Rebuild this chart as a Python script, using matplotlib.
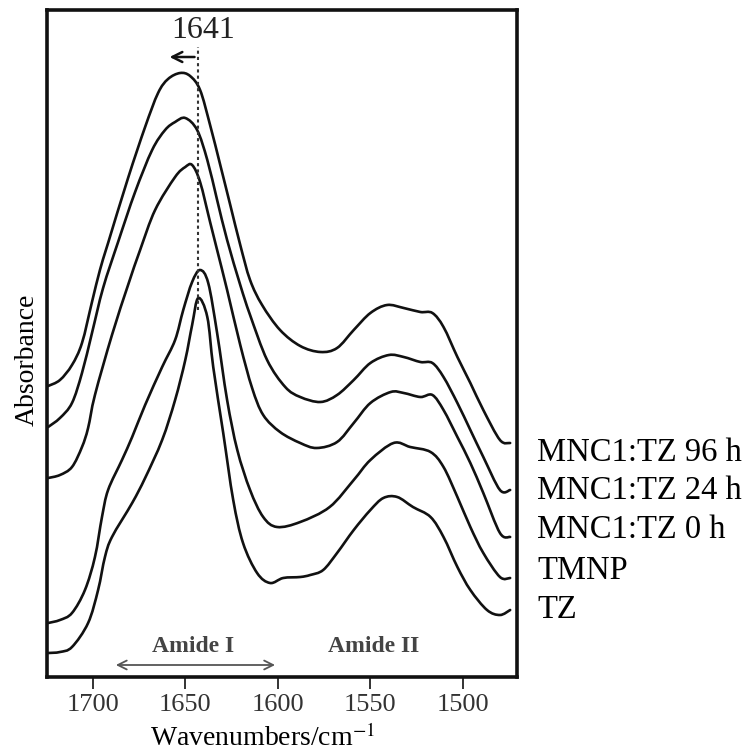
import matplotlib
matplotlib.use('Agg')
import matplotlib.pyplot as plt
from matplotlib.path import Path
from matplotlib.patches import PathPatch
import numpy as np

plt.rcParams['font.family'] = ['Liberation Serif', 'DejaVu Serif']
plt.rcParams['mathtext.fontset'] = 'stix'

# wavenumber (cm-1) / absorbance (a.u., offset stacked)
wn_96h = [1724.1, 1717.7, 1711.2, 1705.8, 1700.4, 1696.1, 1691.7, 1680.9, 1671.7, 1664.7,
          1659.3, 1652.8, 1647.4, 1642, 1636.6, 1631.1, 1625.7, 1620.3, 1615, 1608.5,
          1598.8, 1587.9, 1577, 1568, 1559, 1550, 1541, 1532, 1523, 1516.5, 1510.5, 1503,
          1496, 1489, 1480, 1474.5]
ab_96h = [2.92, 2.98, 3.13, 3.35, 3.76, 4.08, 4.35, 5.00, 5.51, 5.85,
          5.99, 6.05, 6.02, 5.88, 5.53, 5.13, 4.73, 4.33, 3.98, 3.73,
          3.48, 3.32, 3.26, 3.30, 3.48, 3.65, 3.73, 3.70, 3.66, 3.65, 3.51, 3.21,
          2.95, 2.68, 2.38, 2.35]

wn_24h = [1724.1, 1717.7, 1711.2, 1705.8, 1700.4, 1694.4, 1686.3, 1677.1, 1667.9, 1660.9,
          1655.5, 1650, 1643.6, 1638.1, 1632.8, 1627.4, 1620.3, 1615, 1605.8, 1596,
          1587.9, 1577, 1568, 1559, 1550, 1540, 1532, 1523, 1516.5, 1510.5, 1503,
          1496, 1489, 1480, 1474.5]
ab_24h = [2.51, 2.60, 2.75, 3.05, 3.45, 3.90, 4.36, 4.86, 5.28, 5.48,
          5.56, 5.60, 5.48, 5.18, 4.78, 4.38, 3.93, 3.63, 3.18, 2.91,
          2.81, 2.76, 2.83, 2.98, 3.15, 3.23, 3.21, 3.16, 3.15, 3.01, 2.75,
          2.48, 2.21, 1.88, 1.88]

wn_0h = [1724.1, 1717.7, 1711.2, 1705.8, 1702.5, 1698.8, 1689.6, 1680.9, 1674.4, 1666.3,
         1655.5, 1650, 1646.3, 1642, 1636.6, 1632.8, 1627.4, 1620.3, 1613.9, 1607.9,
         1598.8, 1587.9, 1579, 1568, 1559, 1550, 1539, 1532, 1523, 1516.5, 1510.5, 1503,
         1496, 1489, 1480, 1474.5]
ab_0h = [2.00, 2.03, 2.11, 2.31, 2.50, 2.83, 3.43, 3.93, 4.28, 4.68,
         5.01, 5.11, 5.13, 4.96, 4.56, 4.28, 3.88, 3.33, 2.90, 2.63,
         2.46, 2.35, 2.30, 2.36, 2.55, 2.75, 2.86, 2.85, 2.81, 2.83, 2.68, 2.41,
         2.15, 1.85, 1.45, 1.41]

wn_tmnp = [1724.1, 1717.7, 1711.2, 1704.2, 1698.8, 1695, 1691.7, 1684.2, 1678.7, 1671.7,
           1662.5, 1655.5, 1651.1, 1646.3, 1642, 1637.6, 1632.8, 1627.4, 1621.9, 1615,
           1607.9, 1600.4, 1587.9, 1572, 1559, 1550, 1537.5, 1528.5, 1517.5, 1510.5, 1503,
           1496, 1489, 1480, 1474.5]
ab_tmnp = [0.55, 0.58, 0.65, 0.88, 1.21, 1.61, 1.88, 2.18, 2.41, 2.73,
           3.11, 3.38, 3.68, 3.96, 4.08, 3.95, 3.45, 2.78, 2.28, 1.88,
           1.61, 1.51, 1.56, 1.71, 1.98, 2.18, 2.35, 2.31, 2.26, 2.11, 1.81,
           1.51, 1.25, 1.01, 1.00]

wn_tz = [1724.1, 1717.7, 1711.2, 1702.5, 1697.1, 1693.4, 1689.6, 1678.7, 1671.7, 1662.5,
         1655.5, 1650, 1646.3, 1643, 1638.1, 1634.9, 1629.5, 1624.1, 1618.8, 1611.2, 1604.2,
         1597.1, 1587.9, 1582.5, 1575.5, 1568, 1559, 1550, 1543, 1535.5, 1527, 1517.5,
         1510.5, 1503, 1496, 1487, 1480, 1474.5]
ab_tz = [0.25, 0.26, 0.31, 0.55, 0.88, 1.21, 1.41, 1.75, 2.00, 2.38,
         2.78, 3.18, 3.53, 3.80, 3.61, 3.11, 2.45, 1.78, 1.35, 1.05, 0.95,
         1.00, 1.01, 1.03, 1.08, 1.25, 1.48, 1.68, 1.80, 1.81, 1.71, 1.61,
         1.41, 1.11, 0.88, 0.68, 0.63, 0.68]

labels = ['MNC1:TZ 96 h', 'MNC1:TZ 24 h', 'MNC1:TZ 0 h', 'TMNP', 'TZ']
label_y = [453, 491, 530, 571, 610]  # pixel rows of the side labels


def smooth_path(x, y):
    # Catmull-Rom through the points, drawn as cubic Bezier segments
    p = np.column_stack([x, y]).astype(float)
    ext = np.vstack([p[0], p, p[-1]])
    verts = [p[0]]
    codes = [Path.MOVETO]
    for i in range(1, len(ext) - 2):
        p0, p1, p2, p3 = ext[i - 1], ext[i], ext[i + 1], ext[i + 2]
        verts += [p1 + (p2 - p0) / 6, p2 - (p3 - p1) / 6, p2]
        codes += [Path.CURVE4] * 3
    return Path(verts, codes)


fig = plt.figure(figsize=(7.49, 7.51), dpi=100)
ax = fig.add_axes([47 / 749, 74 / 751, 470 / 749, 667 / 751])

series = [(wn_96h, ab_96h), (wn_24h, ab_24h), (wn_0h, ab_0h), (wn_tmnp, ab_tmnp), (wn_tz, ab_tz)]
for wn, ab in series:
    ax.add_patch(PathPatch(smooth_path(wn, ab), facecolor='none', edgecolor='#111111',
                           linewidth=1.9, capstyle='round', joinstyle='round'))

ax.set_xlim(1724.7, 1470.8)
ax.set_ylim(0.01, 6.68)
ax.set_yticks([])
ax.set_xticks([1700, 1650, 1600, 1550, 1500])
ax.tick_params(axis='x', direction='out', length=8.5, width=1.4, colors='#333333',
               labelsize=19, pad=4)
for s in ax.spines.values():
    s.set_linewidth(2.6)
    s.set_color('#111111')

# peak marker
ax.plot([1643, 1643], [3.68, 6.31], linestyle=(0, (1.5, 1.5)), color='#333333', linewidth=1.5)
ax.annotate('', xy=(1660, 6.21), xytext=(1643.5, 6.21),
            arrowprops=dict(arrowstyle='->', color='#111111', lw=1.8, mutation_scale=18))
ax.text(1640.5, 6.47, '1641', ha='center', va='center', fontsize=23, color='#222222')

# amide bands
ax.annotate('', xy=(1689, 0.13), xytext=(1600, 0.13),
            arrowprops=dict(arrowstyle='<->', color='#555555', lw=1.3, mutation_scale=16))
ax.text(1646, 0.31, 'Amide I', ha='center', va='center', fontsize=17,
        fontweight='bold', color='#444444')
ax.text(1548, 0.31, 'Amide II', ha='center', va='center', fontsize=17,
        fontweight='bold', color='#444444')

for lab, py in zip(labels, label_y):
    fig.text(537 / 749, 1 - py / 751, lab, ha='left', va='center', fontsize=23.5)

fig.text(263 / 749, 1 - 738 / 751, 'Wavenumbers/cm$^{-1}$', ha='center', va='center', fontsize=20)
fig.text(27 / 749, 1 - 360 / 751, 'Absorbance', ha='center', va='center', rotation=90, fontsize=20)

fig.savefig('out.png', dpi=100, facecolor='white')
